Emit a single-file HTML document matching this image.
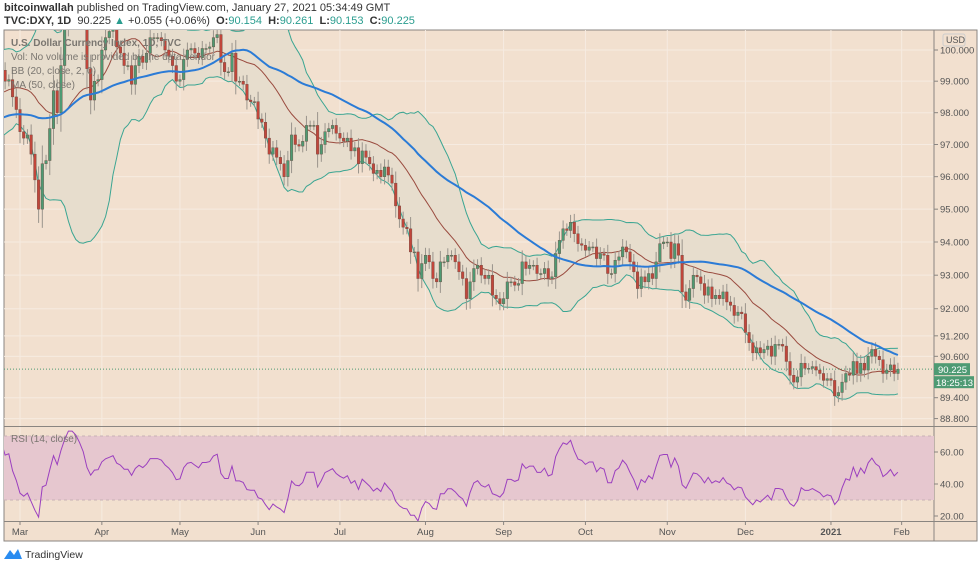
<!DOCTYPE html>
<html><head><meta charset="utf-8">
<style>
body{margin:0;width:980px;height:568px;background:#fff;font-family:"Liberation Sans",sans-serif;overflow:hidden;position:relative}
.h1{position:absolute;left:4px;top:2px;font-size:11px;color:#333;white-space:nowrap}
.h2{position:absolute;left:4px;top:15px;font-size:11px;color:#333;white-space:nowrap}
.t{color:#2a9d8f}
svg{position:absolute;left:0;top:0}
</style></head><body>
<div class="h1"><b>bitcoinwallah</b> published on TradingView.com, January 27, 2021 05:34:49 GMT</div>
<div class="h2"><b>TVC:DXY, 1D</b>&nbsp; 90.225 <span class="t">▲</span> +0.055 (+0.06%) &nbsp;<b>O:</b><span class="t">90.154</span> &nbsp;<b>H:</b><span class="t">90.261</span> &nbsp;<b>L:</b><span class="t">90.153</span> &nbsp;<b>C:</b><span class="t">90.225</span></div>
<svg id="c" width="980" height="568"></svg>
<script>
const preCloses=[97.2,97.1,97.0,97.2,97.4,97.4,97.6,97.7,97.6,97.6,97.4,96.9,96.4,
96.8,96.8,96.85,97.0,97.3,97.3,97.35,97.3,97.35,97.35,97.3,97.35,97.6,97.5,97.6,97.6,97.6,97.95,97.95,97.95,97.9,97.4,
97.6,97.8,98.0,98.3,98.6,98.7,98.85,99.05,98.95,99.15,99.1,99.3,99.45,99.8,99.25];
const monthLabels=["Feb","Mar","Apr","May","Jun","Jul","Aug","Sep","Oct","Nov","Dec","2021"];
const closeFeb=[99.35,99.0,99.05,98.5,98.1];
const closeMar=[97.4,97.2,97.3,96.7,95.9,95.0,96.4,96.5,97.5,98.7,98.0,99.5,101.1,102.8,102.8,102.5,101.9,101.1,99.4,98.4,99.0,99.05];
const closeApr=[100.0,100.4,100.6,100.8,100.1,99.9,99.5,99.5,98.9,99.5,99.8,99.6,99.9,100.4,100.4,100.4,100.3,100.0,99.8,99.5,99.0];
const closeMay=[99.05,99.7,100.0,100.05,99.9,99.75,100.05,100.05,100.1,100.4,100.5,99.6,99.3,99.3,99.9,99.0,99.0,98.9,98.4,98.35,98.35];
const closeJun=[97.8,97.7,97.2,96.7,96.9,96.6,96.4,96.0,96.5,97.3,97.0,96.95,97.1,97.6,97.6,97.6,96.7,97.0,97.4,97.5,97.6,97.35];
const closeJul=[97.2,97.1,97.2,96.8,96.9,96.4,96.8,96.6,96.4,96.1,96.2,96.0,96.3,96.05,95.8,95.1,94.7,94.45,94.4,93.7,93.7,92.9,93.35];
const closeAug=[93.6,93.4,92.9,92.8,93.4,93.4,93.6,93.6,93.4,93.1,92.9,92.3,92.8,93.2,93.3,93.0,92.9,93.0,92.4,92.3,92.15];
const closeSep=[92.3,92.8,92.8,92.7,92.75,93.4,93.2,93.3,93.3,93.05,93.05,93.2,92.9,92.95,93.65,94.05,94.4,94.35,94.6,94.25,93.95,93.9];
const closeOct=[93.75,93.85,93.85,93.5,93.65,93.6,93.05,93.05,93.45,93.55,93.85,93.7,93.4,93.1,92.6,92.95,92.8,93.05,92.9,93.4,93.95,94.0];
const closeNov=[94.0,93.5,93.95,93.6,92.5,92.25,92.6,93.0,92.95,92.75,92.4,92.65,92.3,92.4,92.3,92.5,92.2,92.1,91.8,91.9,91.85];
const closeDec=[91.3,91.0,90.7,90.85,90.7,90.8,90.9,90.6,90.95,90.95,90.9,90.45,90.05,89.85,90.0,90.4,90.25,90.25,90.3,90.2,90.1,89.9,89.95];
const closeJan=[89.9,89.45,89.55,89.85,90.1,90.05,90.45,90.1,90.4,90.2,90.6,90.8,90.6,90.5,90.1,90.2,90.35,90.1,90.225];
const priceTicks=[100,99,98,97,96,95,94,93,92,91.2,90.6,89.4,88.8];
const rsiTicks=[60,40,20];

const months=[closeFeb,closeMar,closeApr,closeMay,closeJun,closeJul,closeAug,closeSep,closeOct,closeNov,closeDec,closeJan];
const vis=[].concat(...months);
const all=preCloses.concat(vis);
const P=preCloses.length;
const NS="http://www.w3.org/2000/svg";
const svg=document.getElementById('c');
function el(t,a,p){const e=document.createElementNS(NS,t);for(const k in a)e.setAttribute(k,a[k]);(p||svg).appendChild(e);return e;}
const X0=1.4,STEP=3.72;
const xOf=i=>X0+i*STEP;
const yOf=p=>242-3103*Math.log(p/94);
const rY=v=>452-(v-60)*1.6;
const MT=30,MB=426,R=934;

// backgrounds
let e=el('rect',{x:4,y:30,width:973,height:511,fill:'#f2e0cf',stroke:'#8a8580','stroke-width':1});

el('defs',{}).innerHTML='<clipPath id="mc"><rect x="4" y="30" width="930" height="396"/></clipPath><clipPath id="rc"><rect x="4" y="427" width="930" height="94"/></clipPath>';
const gg=el('g',{});
priceTicks.forEach(p=>el('line',{x1:4,x2:R,y1:yOf(p),y2:yOf(p),stroke:'#f6ebe1','stroke-width':1},gg));
// month starts
const starts=[];let acc=0;months.forEach((m,k)=>{starts.push(acc);acc+=m.length;});
starts.slice(1).forEach(s=>{el('line',{x1:xOf(s),x2:xOf(s),y1:30,y2:521,stroke:'#f6ebe1'},gg);});
el('line',{x1:xOf(acc),x2:xOf(acc),y1:30,y2:521,stroke:'#f6ebe1'},gg);

// indicators
function sma(i,n){let s=0;for(let k=i-n+1;k<=i;k++)s+=all[k];return s/n;}
function sd(i,n,m){let s=0;for(let k=i-n+1;k<=i;k++)s+=(all[k]-m)**2;return Math.sqrt(s/n);}
const up=[],lo=[],mid=[],ma=[];
for(let j=0;j<vis.length;j++){const i=P+j;const m=sma(i,20),d=sd(i,20,m);mid.push(m);up.push(m+2*d);lo.push(m-2*d);ma.push(sma(i,Math.min(50,i+1)));}
const mg=el('g',{'clip-path':'url(#mc)'});
const pts=a=>a.map((v,j)=>xOf(j).toFixed(1)+','+yOf(v).toFixed(1));
e=el('polygon',{points:pts(up).concat(pts(lo).reverse()).join(' '),fill:'#e7ddcd'},mg);

e=el('polyline',{points:pts(up).join(' '),fill:'none',stroke:'#3aa592','stroke-width':1},mg);

e=el('polyline',{points:pts(lo).join(' '),fill:'none',stroke:'#3aa592','stroke-width':1},mg);

e=el('polyline',{points:pts(mid).join(' '),fill:'none',stroke:'#9a4b3f','stroke-width':1},mg);

// candles
vis.forEach((c,j)=>{const o=all[P+j-1];const h=Math.max(o,c)+Math.abs(c-o)*0.3+0.15,l=Math.min(o,c)-Math.abs(c-o)*0.3-0.15;
 const x=xOf(j),col=c>=o?'#4e9a73':'#c1463b';
 const g=el('g',{},mg);
 
 
 el('line',{x1:x,x2:x,y1:yOf(h),y2:yOf(l),stroke:'#9a948c','stroke-width':1},g);
 const y1=yOf(Math.max(o,c)),y2=yOf(Math.min(o,c));
 el('rect',{x:x-1.3,y:y1,width:2.6,height:Math.max(1,y2-y1),fill:col,stroke:'#6b4a40','stroke-width':0.4},g);});
e=el('polyline',{points:pts(ma).join(' '),fill:'none',stroke:'#2b7bd6','stroke-width':2},mg);

e=el('line',{x1:4,x2:R,y1:yOf(90.225),y2:yOf(90.225),stroke:'#4e9a73','stroke-dasharray':'1,2'});


// legend
const leg=["U.S. Dollar Currency Index, 1D, TVC","Vol: No volume is provided by the data vendor","BB (20, close, 2, 0)","MA (50, close)"];
leg.forEach((t,k)=>{const tx=el('text',{x:11,y:46+k*14,'font-size':10,fill:'#7a7670','font-weight':k==0?'bold':'normal'});tx.textContent=t;
 });

// price axis
el('line',{x1:R,x2:R,y1:30,y2:541,stroke:'#8a8580'});
el('line',{x1:4,x2:977,y1:426.5,y2:426.5,stroke:'#8a8580'});
el('line',{x1:4,x2:977,y1:521.5,y2:521.5,stroke:'#8a8580'});
priceTicks.forEach(p=>{const y=yOf(p);el('line',{x1:R,x2:R+4,y1:y,y2:y,stroke:'#8a8580'});
 const t=el('text',{x:940,y:y+3.5,'font-size':9.5,fill:'#555'});t.textContent=p.toFixed(3);
 });
e=el('rect',{x:943,y:34,width:22,height:12,rx:2,fill:'#f2e0cf',stroke:'#ccc'});
const ut=el('text',{x:946,y:43,'font-size':9,fill:'#555'});ut.textContent='USD';

const ly=yOf(90.225);
e=el('rect',{x:934,y:ly-6,width:36,height:12,fill:'#4e9a73'});
let t2=el('text',{x:938,y:ly+4,'font-size':9.5,fill:'#fff'});t2.textContent='90.225';
e=el('rect',{x:934,y:ly+7,width:40,height:12,fill:'#4e9a73'});
t2=el('text',{x:936,y:ly+17,'font-size':9.5,fill:'#fff'});t2.textContent='18:25:13';

// RSI
const rg=el('g',{'clip-path':'url(#rc)'});
e=el('rect',{x:4,y:rY(70),width:930,height:rY(30)-rY(70),fill:'#e6c7cf'},rg);
el('line',{x1:4,x2:R,y1:rY(70),y2:rY(70),stroke:'#c8b2b6','stroke-dasharray':'3,3'},rg);
el('line',{x1:4,x2:R,y1:rY(30),y2:rY(30),stroke:'#c8b2b6','stroke-dasharray':'3,3'},rg);
let ag=0,al=0;const rsi=[];
for(let i=1;i<all.length;i++){const d=all[i]-all[i-1];const g=Math.max(d,0),l=Math.max(-d,0);
 if(i<=14){ag+=g/14;al+=l/14;}else{ag=(ag*13+g)/14;al=(al*13+l)/14;}
 if(i>=P)rsi.push(100-100/(1+ag/(al||1e-9)));}
e=el('polyline',{points:rsi.map((v,j)=>xOf(j).toFixed(1)+','+rY(v).toFixed(1)).join(' '),fill:'none',stroke:'#9b3fbf','stroke-width':1},rg);

let rt=el('text',{x:11,y:442,'font-size':10,fill:'#7a7670'});rt.textContent='RSI (14, close)';

rsiTicks.forEach(v=>{const y=rY(v);el('line',{x1:R,x2:R+4,y1:y,y2:y,stroke:'#8a8580'});
 const t=el('text',{x:940,y:y+3.5,'font-size':9.5,fill:'#555'});t.textContent=v.toFixed(2);
 });

// time axis
const tl=monthLabels.slice(1).concat(['Feb']);
const tp=starts.slice(1).concat([acc]);
tl.forEach((m,k)=>{const x=xOf(tp[k]);el('line',{x1:x,x2:x,y1:521,y2:525,stroke:'#8a8580'});
 const t=el('text',{x:x,y:535,'font-size':9.5,fill:'#555','text-anchor':'middle','font-weight':m==='2021'?'bold':'normal'});t.textContent=m;
 });

// logo
e=el('path',{d:'M4 559 L10 550 L14 555 L18 549 L22 559 Z',fill:'#2a8cf0'});
const lt=el('text',{x:25,y:558,'font-size':10.5,fill:'#333'});lt.textContent='TradingView';

</script>
</body></html>
